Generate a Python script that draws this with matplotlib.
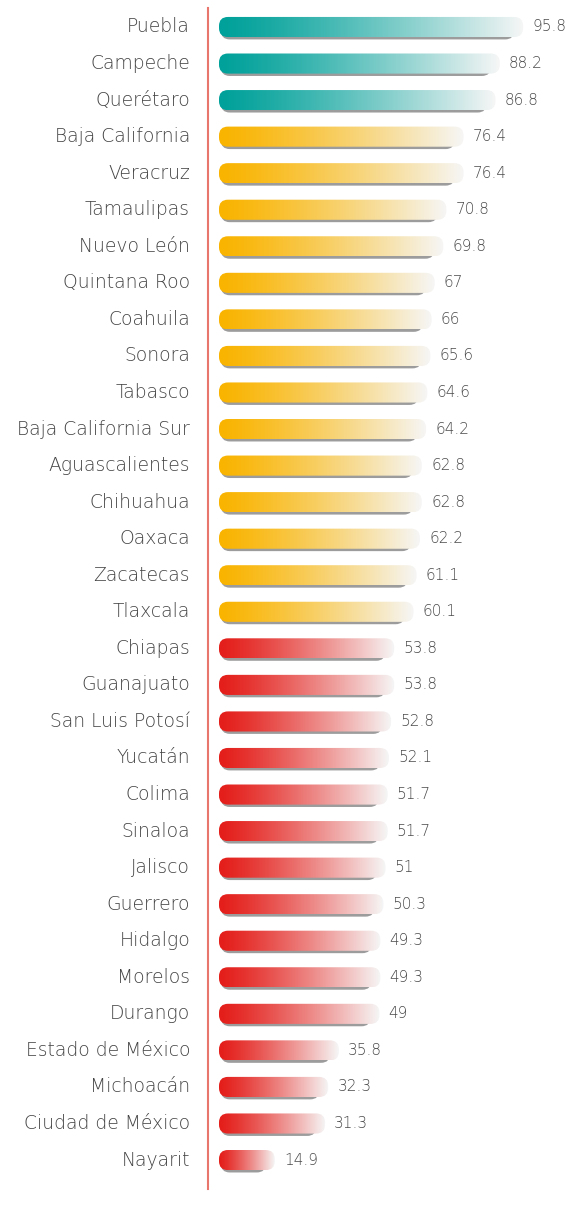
import numpy as np
import matplotlib.pyplot as plt
from matplotlib.patches import FancyBboxPatch
from matplotlib.colors import LinearSegmentedColormap

estados = ["Puebla", "Campeche", "Querétaro", "Baja California", "Veracruz",
           "Tamaulipas", "Nuevo León", "Quintana Roo", "Coahuila", "Sonora",
           "Tabasco", "Baja California Sur", "Aguascalientes", "Chihuahua",
           "Oaxaca", "Zacatecas", "Tlaxcala", "Chiapas", "Guanajuato",
           "San Luis Potosí", "Yucatán", "Colima", "Sinaloa", "Jalisco",
           "Guerrero", "Hidalgo", "Morelos", "Durango", "Estado de México",
           "Michoacán", "Ciudad de México", "Nayarit"]
valores = [95.8, 88.2, 86.8, 76.4, 76.4, 70.8, 69.8, 67, 66, 65.6, 64.6, 64.2,
           62.8, 62.8, 62.2, 61.1, 60.1, 53.8, 53.8, 52.8, 52.1, 51.7, 51.7, 51,
           50.3, 49.3, 49.3, 49, 35.8, 32.3, 31.3, 14.9]
etiquetas = ["95.8", "88.2", "86.8", "76.4", "76.4", "70.8", "69.8", "67", "66",
             "65.6", "64.6", "64.2", "62.8", "62.8", "62.2", "61.1", "60.1",
             "53.8", "53.8", "52.8", "52.1", "51.7", "51.7", "51", "50.3",
             "49.3", "49.3", "49", "35.8", "32.3", "31.3", "14.9"]

W, H = 571, 1209
px_unit = 3.07      # pixels per value unit
x0_px = 229         # pixel of value 0
row_px = 36.55
top_px = 27

def grupo_color(v):
    if v >= 80:
        return "#00a19a"
    if v >= 60:
        return "#fab400"
    return "#e41e1a"

fig = plt.figure(figsize=(W / 100, H / 100), dpi=100)
ax = fig.add_axes([0, 0, 1, 1])
ax.set_xlim(-x0_px / px_unit, (W - x0_px) / px_unit)
ax.set_ylim((H - top_px) / row_px, -top_px / row_px)
ax.axis("off")

bar_start = -10 / px_unit
bh = 0.55
r = 9 / px_unit                     # corner radius in x units
asp = (9 / row_px) / r              # so y radius is 9 px too
grad = (np.linspace(0, 1, 256) ** 1.25).reshape(1, -1)
fuente = dict(family="DejaVu Sans", weight="light")

for i, (est, v, lab) in enumerate(zip(estados, valores, etiquetas)):
    base = grupo_color(v)
    cmap = LinearSegmentedColormap.from_list("g", [base, "#f6f6f6"])
    # shadow underneath
    sh = FancyBboxPatch((bar_start + 0.6, i - bh / 2 + 0.065), v - bar_start - 3.5, bh,
                        boxstyle=f"round,pad=0,rounding_size={r}",
                        mutation_aspect=asp,
                        fc="#9c9c9c", ec="none", zorder=1)
    ax.add_patch(sh)
    clip = FancyBboxPatch((bar_start, i - bh / 2), v - bar_start, bh,
                          boxstyle=f"round,pad=0,rounding_size={r}",
                          mutation_aspect=asp,
                          fc="none", ec="none", zorder=2)
    ax.add_patch(clip)
    im = ax.imshow(grad, cmap=cmap, aspect="auto", interpolation="bicubic",
                   extent=(bar_start, v, i + bh / 2, i - bh / 2), zorder=2)
    im.set_clip_path(clip)
    ax.text(-12.7, i, est, ha="right", va="center", fontsize=13.5,
            color="#444444", **fuente)
    ax.text(v + 3, i, lab, ha="left", va="center", fontsize=11,
            color="#4a4a4a", **fuente)

ax.plot([-6.84, -6.84], [-0.52, 31.8], color="#e8766c", lw=1.5, zorder=3)

fig.savefig("out.png", dpi=100)
